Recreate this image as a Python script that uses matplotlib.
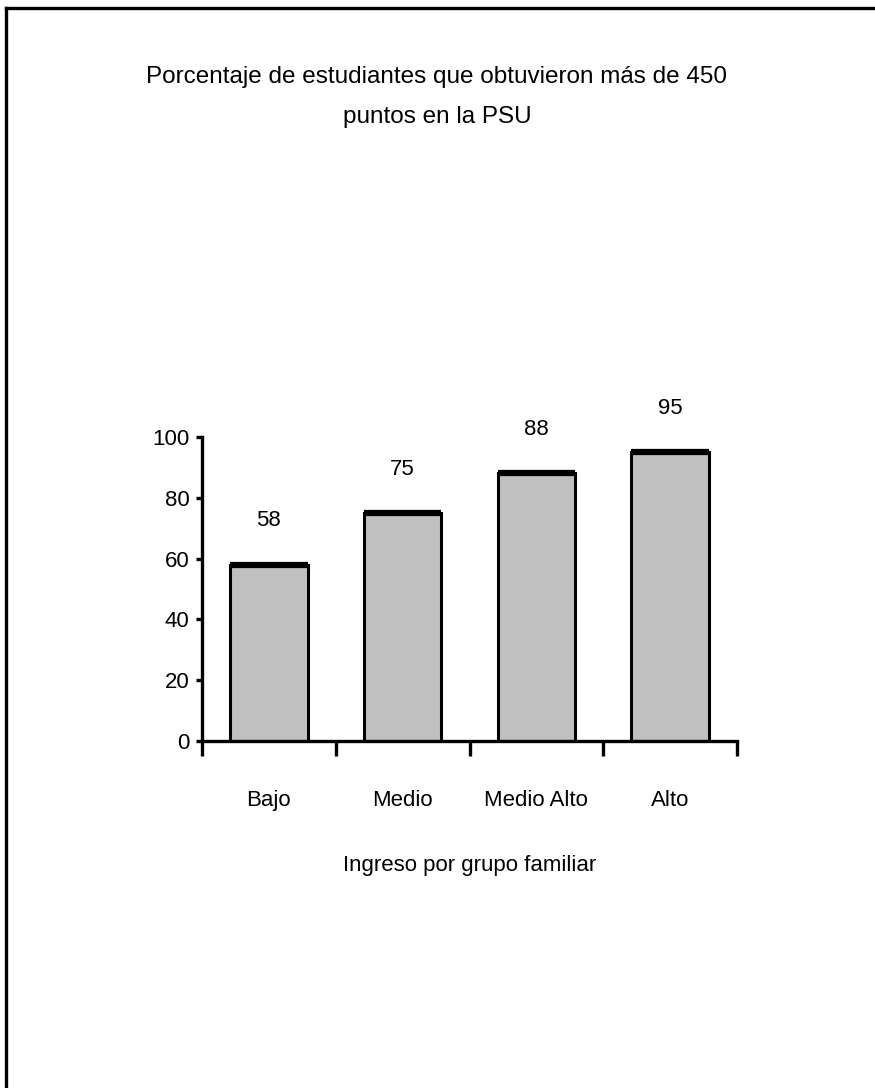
import matplotlib

matplotlib.use("Agg")
import matplotlib.pyplot as plt
from matplotlib.lines import Line2D

categorias = ["Bajo", "Medio", "Medio Alto", "Alto"]
porcentajes = [58, 75, 88, 95]
etiquetas = ["58", "75", "88", "95"]
yticks = [0, 20, 40, 60, 80, 100]

FONT = ["Liberation Sans Narrow", "Liberation Sans", "DejaVu Sans"]
plt.rcParams["font.family"] = FONT

W, H = 875, 1088
fig = plt.figure(figsize=(W / 100, H / 100), dpi=100)
fig.patch.set_facecolor("white")

# marco parcial (izquierda y arriba)
fig.add_artist(Line2D([5.5 / W, 5.5 / W], [0, 1 - 7.5 / H], transform=fig.transFigure,
                      color="black", lw=2.4))
fig.add_artist(Line2D([5.5 / W, 1], [1 - 7.5 / H, 1 - 7.5 / H], transform=fig.transFigure,
                      color="black", lw=2.4))

ax = fig.add_axes([202 / W, 347 / H, 535 / W, 304 / H])
x = range(len(categorias))
bars = ax.bar(x, porcentajes, width=0.58, color="#c0c0c0", edgecolor="black",
              linewidth=2.2, zorder=2)
for b, lab in zip(bars, etiquetas):
    ax.hlines(b.get_height(), b.get_x(), b.get_x() + b.get_width(),
              color="black", lw=4.5, zorder=3)
    ax.annotate(lab, (b.get_x() + b.get_width() / 2, b.get_height()),
                xytext=(0, 24), textcoords="offset points", ha="center", va="bottom",
                fontsize=16)

ax.set_xlim(-0.5, len(categorias) - 0.5)
ax.set_ylim(0, 100)
ax.set_yticks(yticks)
ax.set_yticklabels([str(v) for v in yticks], fontsize=16)
ax.set_xticks([i - 0.5 for i in range(len(categorias) + 1)])
ax.set_xticklabels([])
ax.set_xticks(list(x), minor=True)
ax.set_xticklabels(categorias, minor=True, fontsize=16)
ax.tick_params(axis="x", which="minor", length=0, pad=35)
ax.tick_params(axis="x", which="major", direction="out", length=11, width=2.4)
ax.tick_params(axis="y", direction="out", length=4, width=2.4, pad=5)
for s in ["top", "right"]:
    ax.spines[s].set_visible(False)
for s in ["left", "bottom"]:
    ax.spines[s].set_linewidth(2.4)
ax.set_xlabel("Ingreso por grupo familiar", fontsize=16, labelpad=32)

fig.text(437 / W, 1 - 97 / H,
         "Porcentaje de estudiantes que obtuvieron más de 450\npuntos en la PSU",
         ha="center", va="center", fontsize=17.5, linespacing=2.1)

fig.savefig("out.png", dpi=100, facecolor="white")
